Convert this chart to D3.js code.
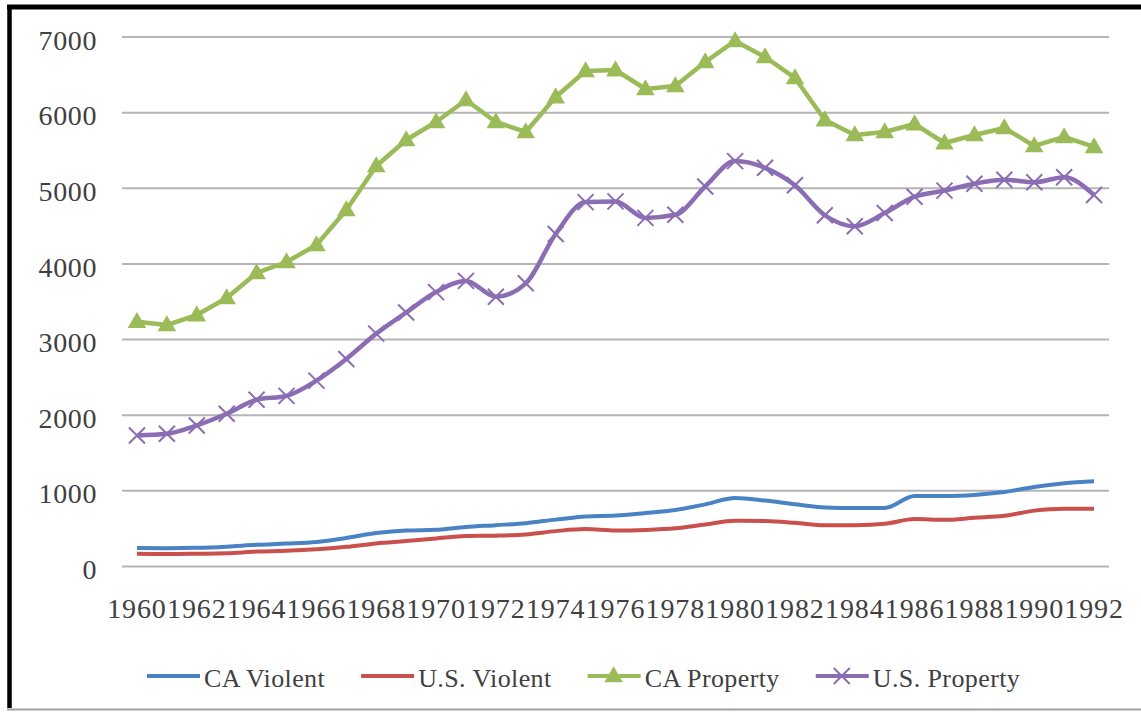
<!DOCTYPE html>
<html>
<head>
<meta charset="utf-8">
<script src="https://cdn.jsdelivr.net/npm/d3@7"></script>
<style>
  body { margin: 0; background: #fff; }
  svg { display: block; }
  text { font-family: "Liberation Serif", "DejaVu Serif", serif; fill: #404040; }
</style>
</head>
<body>
<svg width="1141" height="712"></svg>
<script>
// years on the x axis
const years = d3.range(1960, 1993)
const yTicks = [0, 1000, 2000, 3000, 4000, 5000, 6000, 7000]

// rates per 100,000
const caViolent = [238, 236, 240, 255, 280, 296, 317, 370, 436, 470, 478, 516, 540, 566, 613, 655, 668, 700, 741, 815, 900, 865, 815, 775, 767, 767, 925, 925, 940, 978, 1044, 1095, 1120]
const usViolent = [161, 158, 162, 168, 191, 200, 220, 253, 298, 329, 364, 396, 401, 417, 461, 488, 468, 476, 498, 549, 597, 594, 571, 538, 540, 557, 620, 610, 637, 663, 732, 758, 758]
const caProperty = [3230, 3186, 3318, 3543, 3874, 4019, 4244, 4707, 5288, 5632, 5870, 6161, 5870, 5738, 6200, 6544, 6557, 6306, 6346, 6663, 6941, 6729, 6452, 5896, 5698, 5738, 5843, 5592, 5698, 5791, 5553, 5672, 5540]
const usProperty = [1726, 1748, 1858, 2012, 2198, 2249, 2451, 2737, 3072, 3351, 3621, 3769, 3560, 3737, 4389, 4811, 4820, 4602, 4643, 5017, 5353, 5264, 5033, 4637, 4492, 4666, 4882, 4963, 5054, 5107, 5073, 5140, 4904]

const seriesNames = ['CA Violent', 'U.S. Violent', 'CA Property', 'U.S. Property']
const seriesColors = ['#4a83c4', '#c9504c', '#9bbb59', '#8b6db3']
const seriesMarkers = ['none', 'none', 'triangle', 'cross']
const seriesValues = [caViolent, usViolent, caProperty, usProperty]

const svg = d3.select('svg')

const x = d3.scaleBand().domain(years).range([122, 1109]).padding(0)
const y = d3.scaleLinear().domain([0, 7000]).range([566, 36.5])
const cx = d => x(d) + x.bandwidth() / 2

// frame (left + top thick, bottom thin grey)
svg.append('line').attr('x1', 9.5).attr('x2', 9.5).attr('y1', 5).attr('y2', 708)
    .attr('stroke', '#000').attr('stroke-width', 4.5)
svg.append('line').attr('x1', 7).attr('x2', 1141).attr('y1', 7).attr('y2', 7)
    .attr('stroke', '#000').attr('stroke-width', 5)
svg.append('line').attr('x1', 7).attr('x2', 1141).attr('y1', 709.5).attr('y2', 709.5)
    .attr('stroke', '#a0a0a0').attr('stroke-width', 2)

// gridlines + y labels
const yAxis = d3.axisLeft(y).tickValues(yTicks).tickSize(-(1109 - 122)).tickPadding(25).tickFormat(d3.format('d'))
svg.append('g')
    .attr('transform', 'translate(122,0)')
    .call(yAxis)
    .call(g => g.select('.domain').remove())
    .call(g => g.selectAll('.tick line').attr('stroke', '#b5b5b5').attr('stroke-width', 2))
    .call(g => g.selectAll('.tick text')
        .attr('font-size', 28).attr('dy', '0.45em').attr('fill', '#404040')
        .style('letter-spacing', '0.6px')
        .style('font-family', '"Liberation Serif", serif'))

// x labels (every other year)
const xAxis = d3.axisBottom(x).tickValues(years.filter(d => d % 2 == 0)).tickSize(0).tickPadding(0)
svg.append('g')
    .attr('transform', 'translate(0,566)')
    .call(xAxis)
    .call(g => g.select('.domain').remove())
    .call(g => g.selectAll('.tick text')
        .attr('font-size', 28).attr('y', 52).attr('dy', 0).attr('fill', '#404040')
        .style('letter-spacing', '0.9px')
        .style('font-family', '"Liberation Serif", serif'))

const line = d3.line()
    .x((d, i) => cx(years[i]))
    .y(d => y(d))

const triangle = d3.symbol().type(d3.symbolTriangle).size(150)

function drawMarker(g, type, color) {
    if (type == 'triangle') {
        g.append('path').attr('d', triangle()).attr('fill', color).attr('transform', 'translate(0,1)')
    } else if (type == 'cross') {
        g.append('path').attr('d', 'M-8,-8L8,8M-8,8L8,-8')
            .attr('stroke', color).attr('stroke-width', 2).attr('fill', 'none')
    }
}

// lines + markers
seriesValues.forEach((vals, k) => {
    const color = seriesColors[k]
    const smooth = k == 3 || k < 2
    svg.append('path')
        .datum(vals)
        .attr('d', smooth ? line.curve(d3.curveMonotoneX)(vals) : line.curve(d3.curveLinear)(vals))
        .attr('fill', 'none')
        .attr('stroke', color)
        .attr('stroke-width', k < 2 ? 4 : 4.5)
        .attr('stroke-linejoin', 'round')

    if (seriesMarkers[k] != 'none') {
        svg.append('g').selectAll('g').data(vals).enter()
            .append('g')
            .attr('transform', (d, i) => `translate(${cx(years[i])},${y(d)})`)
            .each(function () { drawMarker(d3.select(this), seriesMarkers[k], color) })
    }
})

// legend
let lx = 147
const legendY = 676
seriesNames.forEach((name, k) => {
    const g = svg.append('g').attr('transform', `translate(${lx},${legendY})`)
    g.append('line').attr('x1', 0).attr('x2', 53).attr('y1', 0).attr('y2', 0)
        .attr('stroke', seriesColors[k]).attr('stroke-width', 4)
    if (seriesMarkers[k] != 'none') {
        const m = g.append('g').attr('transform', 'translate(26,0)')
        drawMarker(m, seriesMarkers[k], seriesColors[k])
    }
    const t = g.append('text').attr('x', 57).attr('y', 11)
        .attr('font-size', 26).style('letter-spacing', '0.4px').text(name)
    lx += 57 + t.node().getComputedTextLength() + 36
})
</script>
</body>
</html>
